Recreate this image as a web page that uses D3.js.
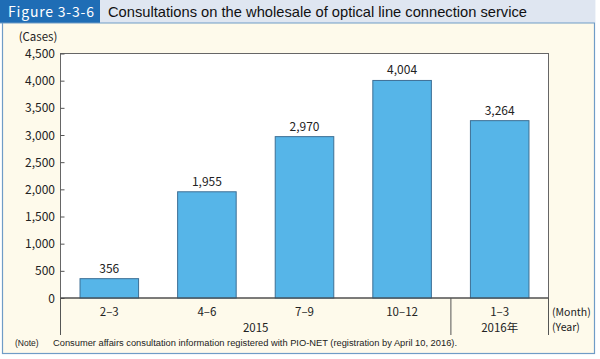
<!DOCTYPE html>
<html><head><meta charset="utf-8">
<script src="https://cdn.jsdelivr.net/npm/d3@7"></script>
<style>
body{margin:0;background:#fff;}
svg{display:block;}
</style></head>
<body>
<svg id="c" width="600" height="359"></svg>
<script>
const categories = ["2-3","4-6","7-9","10-12","1-3"];
const values = [356,1955,2970,4004,3264];
const valueLabels = ["356","1,955","2,970","4,004","3,264"];
const yTicks = [0,500,1000,1500,2000,2500,3000,3500,4000,4500];
const years = [{label:"2015", from:0, to:3},{label:"2016年", from:4, to:4}];

const JP = '"Noto Sans CJK JP","Noto Sans",sans-serif';
const AR = '"Liberation Sans",Arial,sans-serif';
const svg = d3.select("#c");
// panel
svg.append("rect").attr("x",2.5).attr("y",0.5).attr("width",592).attr("height",353)
  .attr("fill","#fefaeb").attr("stroke","#6f9cc6").attr("stroke-width",1.2);
// title bar
svg.append("rect").attr("x",0).attr("y",0).attr("width",595).attr("height",23).attr("fill","#dfe6f1");
svg.append("rect").attr("x",0).attr("y",0).attr("width",100).attr("height",23).attr("fill","#1f6db5");
svg.append("line").attr("x1",0).attr("x2",595).attr("y1",23).attr("y2",23).attr("stroke","#6f9cc6").attr("stroke-width",1);
svg.append("text").attr("x",8).attr("y",17).attr("fill","#fff").style("font-family",JP).style("font-size","14px")
  .attr("textLength",86).attr("lengthAdjust","spacing").text("Figure 3-3-6");
svg.append("text").attr("x",108).attr("y",17).attr("fill","#111").style("font-size","14.5px")
  .style("font-family",AR).attr("textLength",419).attr("lengthAdjust","spacingAndGlyphs")
  .text("Consultations on the wholesale of optical line connection service");

const L=60.5,R=548.5,T=53.5,B=298;
const x = d3.scaleBand().domain(categories).range([L,R]).paddingInner(0.4).paddingOuter(0.2);
const y = d3.scaleLinear().domain([0,4500]).range([B,T]);

svg.append("rect").attr("x",L).attr("y",T).attr("width",R-L).attr("height",B-T)
  .attr("fill","#fff").attr("stroke","#666").attr("stroke-width",1);

// y axis
const ya = svg.append("g").attr("transform",`translate(${L},0)`)
  .call(d3.axisRight(y).tickValues(yTicks).tickSize(4).tickFormat(""));
ya.select(".domain").remove();
ya.selectAll("line").attr("stroke","#555");
svg.selectAll(".ylab").data(yTicks).enter().append("text")
  .attr("x",55).attr("y",d=>y(d)+4.5).attr("text-anchor","end").style("font-family",JP)
  .style("font-size","12px").attr("fill","#222").text(d=>d3.format(",")(d));
svg.append("text").attr("x",38).attr("y",41).attr("text-anchor","middle").style("font-family",JP)
  .style("font-size","11.5px").attr("fill","#222").text("(Cases)");

// bars
svg.selectAll(".bar").data(values).enter().append("rect")
  .attr("x",(d,i)=>x(categories[i])).attr("y",d=>y(d))
  .attr("width",x.bandwidth()).attr("height",d=>B-y(d))
  .attr("fill","#56b5e8").attr("stroke","#3d6f95").attr("stroke-width",1);
svg.selectAll(".vl").data(values).enter().append("text")
  .attr("x",(d,i)=>x(categories[i])+x.bandwidth()/2).attr("y",d=>y(d)-6)
  .attr("text-anchor","middle").style("font-family",JP).style("font-size","12px").attr("fill","#222")
  .text((d,i)=>valueLabels[i]);

// baseline
svg.append("line").attr("x1",L).attr("x2",R).attr("y1",B).attr("y2",B).attr("stroke","#444");
// category axis lines
const bandL = i => L + i*(R-L)/categories.length;
[0,4,5].forEach(i=>{
  svg.append("line").attr("x1",bandL(i)).attr("x2",bandL(i)).attr("y1",B).attr("y2",335)
    .attr("stroke","#555").attr("stroke-width",1);
});
svg.selectAll(".cl").data(categories).enter().append("text")
  .attr("x",d=>x(d)+x.bandwidth()/2).attr("y",315.5).attr("text-anchor","middle").style("font-family",JP)
  .style("font-size","11.5px").attr("fill","#222").text(d=>d.replace("-","\u2013"));
svg.selectAll(".yr").data(years).enter().append("text")
  .attr("x",d=>(bandL(d.from)+bandL(d.to+1))/2).attr("y",331.5).attr("text-anchor","middle").style("font-family",JP)
  .style("font-size","11.5px").attr("fill","#222").text(d=>d.label);
svg.append("text").attr("x",552).attr("y",316).style("font-family",JP).style("font-size","10.5px").attr("fill","#222").text("(Month)");
svg.append("text").attr("x",552).attr("y",331).style("font-family",JP).style("font-size","10.5px").attr("fill","#222").text("(Year)");

// note
svg.append("text").attr("x",15).attr("y",346).style("font-size","8.5px").attr("fill","#222")
  .style("font-family",AR).text("(Note)");
svg.append("text").attr("x",53).attr("y",346).style("font-size","8.5px").attr("fill","#222")
  .style("font-family",AR).attr("textLength",404).attr("lengthAdjust","spacingAndGlyphs")
  .text("Consumer affairs consultation information registered with PIO-NET (registration by April 10, 2016).");
</script>
</body></html>
